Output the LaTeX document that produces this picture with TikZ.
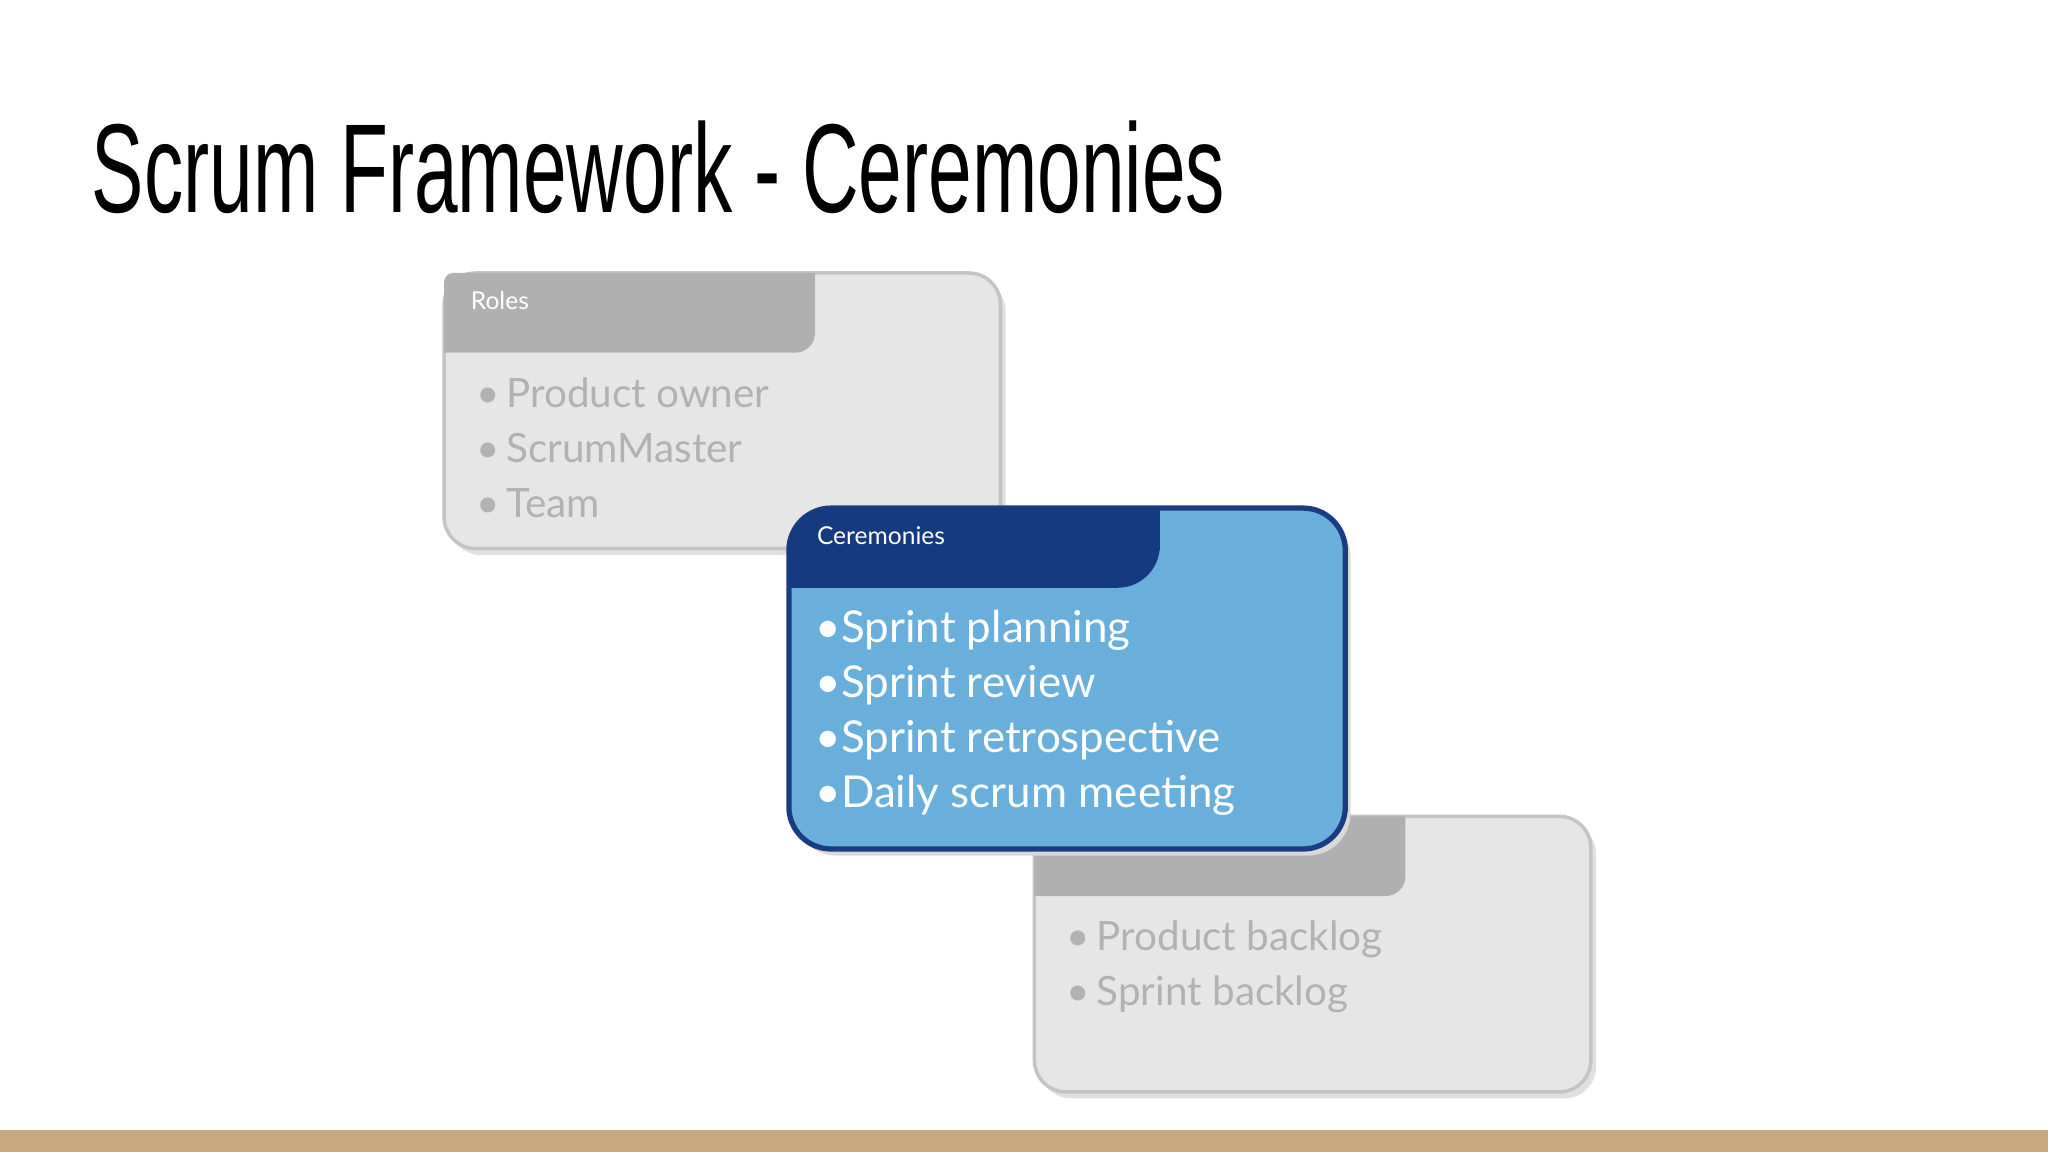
\documentclass[tikz,border=0pt]{standalone}
\usepackage{fontspec}
\setmainfont{Lato}
\newfontfamily\titlefont{Liberation Sans}
\definecolor{cardgray}{HTML}{E6E6E6}
\definecolor{cardedge}{HTML}{C4C4C4}
\definecolor{tabgray}{HTML}{B0B0B0}
\definecolor{txtgray}{HTML}{B2B2B2}
\definecolor{cerfill}{HTML}{6AAEDC}
\definecolor{ceredge}{HTML}{1B3C82}
\definecolor{certab}{HTML}{153A7F}
\definecolor{barcol}{HTML}{C8A97E}
\begin{document}
\begin{tikzpicture}[x=0.013061cm,y=-0.013061cm,
  item/.style={anchor=base west,inner sep=0pt,font=\fontsize{11.5}{12}\selectfont,text=txtgray},
  citem/.style={anchor=base west,inner sep=0pt,font=\fontsize{12.5}{13}\selectfont,text=white},
  tab/.style={anchor=base west,inner sep=0pt,font=\fontsize{7}{8}\selectfont,text=white}]
\useasboundingbox (0,0) rectangle (1568,882);
\fill[white] (0,0) rectangle (1568,882);
\node[anchor=base west,inner sep=0pt,xscale=0.62,font=\titlefont\fontsize{36}{40}\selectfont] (title) at (70,163) {Scrum Framework - Ceremonies};
% Roles card
\fill[black!12,rounded corners=9] (344,214) rectangle (770,425);
\draw[cardedge,fill=cardgray,line width=1pt,rounded corners=9] (340,209) rectangle (766,420);
\fill[tabgray] (347,209) -- (624,209) -- (624,255) arc[start angle=0,end angle=90,radius=15] -- (340,270) -- (340,216) arc[start angle=180,end angle=270,radius=7] ;
\node[tab] (roles) at (360,237) {Roles};
\node[item] (r1) at (364,312) {\textbullet\,Product owner};
\node[item] (r2) at (364,354) {\textbullet\,ScrumMaster};
\node[item] (r3) at (364,396) {\textbullet\,Team};
% Artifacts card
\fill[black!12,rounded corners=9] (796,630) rectangle (1222,841);
\draw[cardedge,fill=cardgray,line width=1pt,rounded corners=9] (792,625) rectangle (1218,836);
\fill[tabgray] (799,625) -- (1076,625) -- (1076,671) arc[start angle=0,end angle=90,radius=15] -- (792,686) -- (792,632) arc[start angle=180,end angle=270,radius=7];
\node[tab] (art) at (812,653) {Artifacts};
\node[item] (a1) at (816,728) {\textbullet\,Product backlog};
\node[item] (a2) at (816,770) {\textbullet\,Sprint backlog};
% Ceremonies card
\fill[black!15,rounded corners=12] (608,394) rectangle (1034,655);
\draw[ceredge,fill=cerfill,line width=1.5pt,rounded corners=12] (604,389) rectangle (1030,650);
\fill[certab,rounded corners=12] (604,389) -- (888,389) -- (888,450) -- (604,450) -- cycle;
\fill[certab] (604,420) rectangle (640,450);
\fill[certab] (850,389) rectangle (888,420);
\fill[cerfill] (888,450) -- (873,450) arc[start angle=-90,end angle=0,radius=15] -- cycle;
\node[tab] (cer) at (625,417) {Ceremonies};
\node[citem] (c1) at (624,492) {\textbullet Sprint planning};
\node[citem] (c2) at (624,534) {\textbullet Sprint review};
\node[citem] (c3) at (624,576) {\textbullet Sprint retrospective};
\node[citem] (c4) at (624,618) {\textbullet Daily scrum meeting};
% bottom bar
\fill[barcol] (0,865) rectangle (1568,882);
\end{tikzpicture}
\end{document}
